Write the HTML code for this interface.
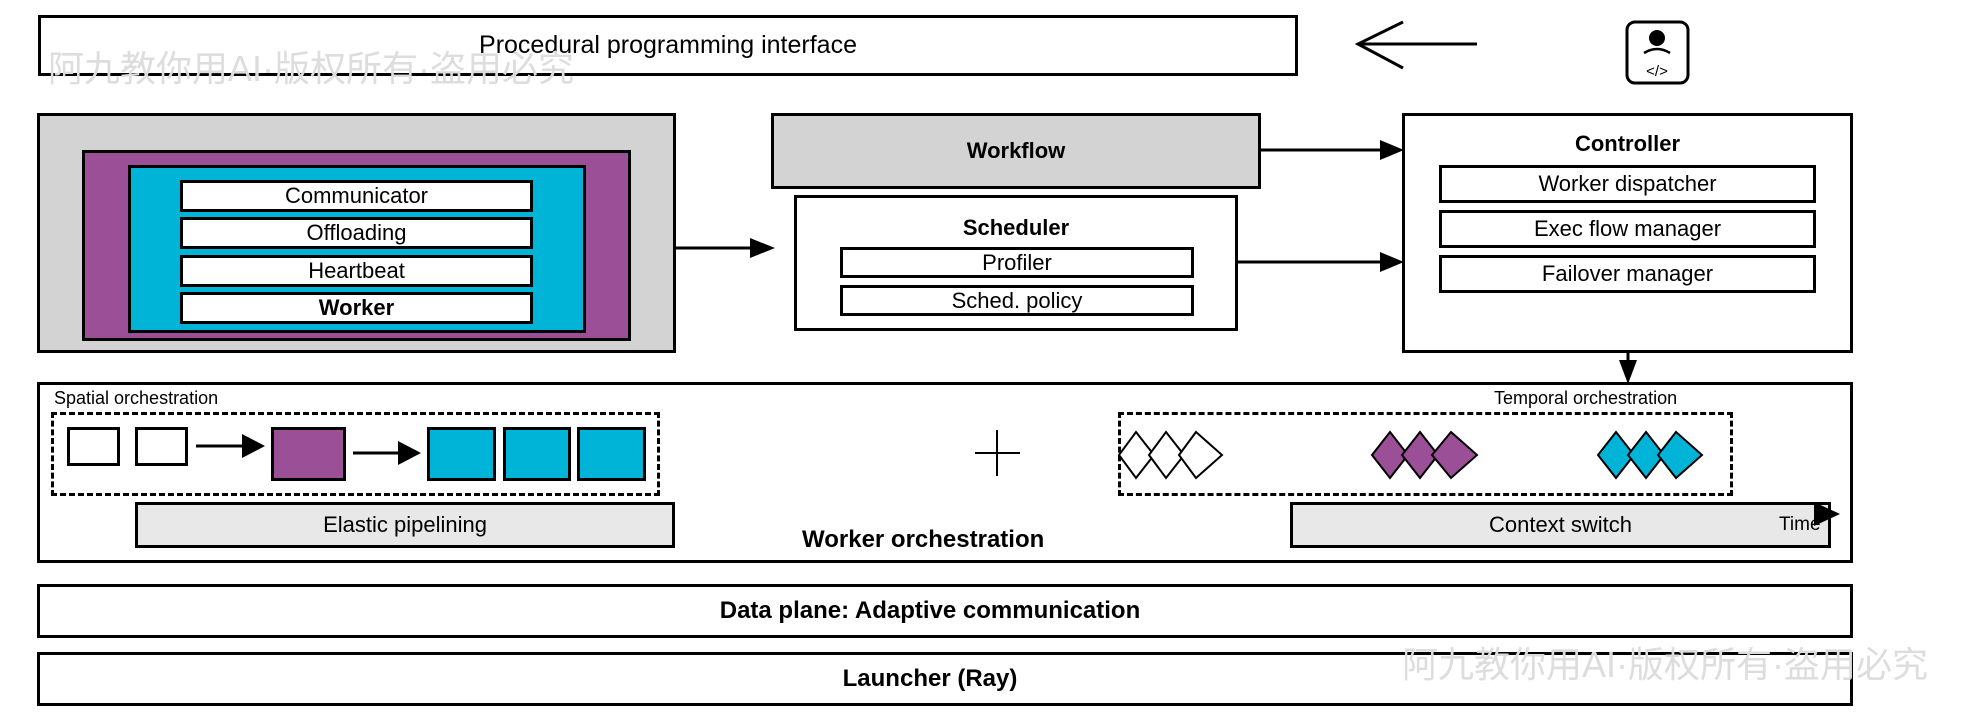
<!DOCTYPE html>
<html><head><meta charset="utf-8"><style>
body{margin:0;width:1980px;height:720px;background:#fff;position:relative;overflow:hidden;font-family:"Liberation Sans",Arial,sans-serif;}
.b{position:absolute;box-sizing:border-box;border:3px solid #000;display:flex;align-items:center;justify-content:center;font-size:22px;color:#000;}
.t{position:absolute;font-size:22px;white-space:nowrap;}
.bold{font-weight:bold;}
svg{position:absolute;left:0;top:0;}
</style></head><body>
<div class="b" style="left:38px;top:15px;width:1260px;height:61px;font-size:25px;">Procedural programming interface</div>
<div class="t" style="left:48px;top:40px;font-size:36px;color:#ddd;font-family:'Liberation Sans','Noto Sans CJK SC',sans-serif;">阿九教你用AI·版权所有·盗用必究</div>

<div class="b" style="left:37px;top:113px;width:639px;height:240px;background:#d3d3d3;"></div>
<div class="b" style="left:82px;top:150px;width:549px;height:191px;background:#9b4f96;"></div>
<div class="b" style="left:128px;top:165px;width:458px;height:168px;background:#00b4d8;"></div>
<div class="b" style="left:180px;top:180px;width:353px;height:32px;background:#fff;">Communicator</div>
<div class="b" style="left:180px;top:217px;width:353px;height:32px;background:#fff;">Offloading</div>
<div class="b" style="left:180px;top:255px;width:353px;height:32px;background:#fff;">Heartbeat</div>
<div class="b bold" style="left:180px;top:292px;width:353px;height:32px;background:#fff;">Worker</div>

<div class="b bold" style="left:771px;top:113px;width:490px;height:76px;background:#d3d3d3;">Workflow</div>
<div class="b" style="left:794px;top:195px;width:444px;height:136px;background:#fff;align-items:flex-start;"><span class="bold" style="margin-top:17px;">Scheduler</span></div>
<div class="b" style="left:840px;top:247px;width:354px;height:31px;background:#fff;">Profiler</div>
<div class="b" style="left:840px;top:285px;width:354px;height:31px;background:#fff;">Sched. policy</div>

<div class="b" style="left:1402px;top:113px;width:451px;height:240px;background:#fff;align-items:flex-start;"><span class="bold" style="margin-top:15px;">Controller</span></div>
<div class="b" style="left:1439px;top:165px;width:377px;height:38px;">Worker dispatcher</div>
<div class="b" style="left:1439px;top:210px;width:377px;height:38px;">Exec flow manager</div>
<div class="b" style="left:1439px;top:255px;width:377px;height:38px;">Failover manager</div>

<div class="b" style="left:37px;top:382px;width:1816px;height:181px;"></div>
<div class="t" style="left:54px;top:388px;font-size:18px;">Spatial orchestration</div>
<div class="t" style="left:1494px;top:388px;font-size:18px;">Temporal orchestration</div>
<div class="b" style="left:51px;top:412px;width:609px;height:84px;border:3px dashed #000;"></div>
<div class="b" style="left:1118px;top:412px;width:615px;height:84px;border:3px dashed #000;"></div>
<div class="b" style="left:67px;top:427px;width:53px;height:39px;background:#fff;"></div>
<div class="b" style="left:135px;top:427px;width:53px;height:39px;background:#fff;"></div>
<div class="b" style="left:271px;top:427px;width:75px;height:54px;background:#9b4f96;"></div>
<div class="b" style="left:427px;top:427px;width:69px;height:54px;background:#00b4d8;"></div>
<div class="b" style="left:503px;top:427px;width:68px;height:54px;background:#00b4d8;"></div>
<div class="b" style="left:577px;top:427px;width:69px;height:54px;background:#00b4d8;"></div>
<div class="b" style="left:135px;top:502px;width:540px;height:46px;background:#e8e8e8;">Elastic pipelining</div>
<div class="b" style="left:1290px;top:502px;width:541px;height:46px;background:#e8e8e8;">Context switch</div>
<div class="t" style="left:1779px;top:514px;font-size:19px;">Time</div>
<div class="t bold" style="left:802px;top:526px;font-size:24px;">Worker orchestration</div>

<div class="b bold" style="left:37px;top:584px;width:1816px;height:54px;padding-right:30px;font-size:24px;">Data plane: Adaptive communication</div>
<div class="b bold" style="left:37px;top:652px;width:1816px;height:54px;padding-right:30px;font-size:24px;">Launcher (Ray)</div>
<div class="t" style="left:1402px;top:636px;font-size:36px;color:#ddd;font-family:'Liberation Sans','Noto Sans CJK SC',sans-serif;">阿九教你用AI·版权所有·盗用必究</div>

<svg width="1980" height="720">
<g stroke="#000" stroke-width="3" fill="none">
<line x1="1358" y1="44" x2="1477" y2="44"/>
<polyline points="1403,22 1358,44 1403,68"/>
<rect x="1627" y="22" width="61" height="61" rx="8"/>
<path d="M1644,53 Q1657,45 1670,53" stroke-width="2.5"/>
<line x1="676" y1="248" x2="750" y2="248"/>
<line x1="1261" y1="150" x2="1380" y2="150"/>
<line x1="1238" y1="262" x2="1380" y2="262"/>
<line x1="1628" y1="353" x2="1628" y2="368"/>
<line x1="196" y1="446" x2="245" y2="446"/>
<line x1="353" y1="453" x2="400" y2="453"/>
<line x1="997" y1="430" x2="997" y2="476" stroke-width="2"/>
<line x1="975" y1="453" x2="1020" y2="453" stroke-width="2"/>
</g>
<circle cx="1657" cy="38" r="8" fill="#000"/>
<text x="1657" y="76" font-size="15" text-anchor="middle" font-family="Liberation Sans">&lt;/&gt;</text>
<polygon points="750,238 775,248 750,258" fill="#000"/>
<polygon points="1380,140 1404,150 1380,160" fill="#000"/>
<polygon points="1380,252 1404,262 1380,272" fill="#000"/>
<polygon points="1619,360 1637,360 1628,384" fill="#000"/>
<polygon points="242,434 265,446 242,458" fill="#000"/>
<polygon points="398,441 421,453 398,465" fill="#000"/>
<polygon points="1814,502 1840,514 1814,526" fill="#000"/>
<g stroke="#000" stroke-width="2">
<polygon points="1136,432 1154,455 1136,478 1119,455" fill="#fff"/>
<polygon points="1166,432 1184,455 1166,478 1149,455" fill="#fff"/>
<polygon points="1196,432 1222,455 1196,478 1179,455" fill="#fff"/>
<polygon points="1390,432 1408,455 1390,478 1372,455" fill="#9b4f96"/>
<polygon points="1420,432 1438,455 1420,478 1402,455" fill="#9b4f96"/>
<polygon points="1451,432 1477,455 1451,478 1432,455" fill="#9b4f96"/>
<polygon points="1616,432 1634,455 1616,478 1598,455" fill="#00b4d8"/>
<polygon points="1646,432 1664,455 1646,478 1628,455" fill="#00b4d8"/>
<polygon points="1676,432 1702,455 1676,478 1658,455" fill="#00b4d8"/>
</g>
</svg>
</body></html>
